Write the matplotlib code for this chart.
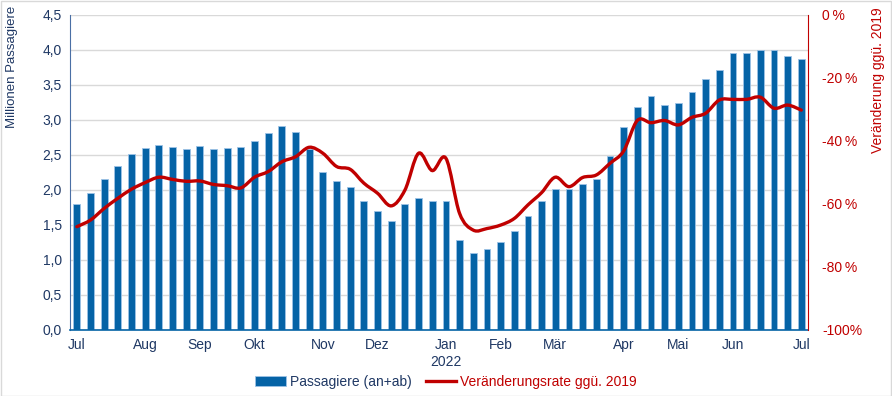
import numpy as np
import matplotlib
matplotlib.use("Agg")
from matplotlib import pyplot as plt
from matplotlib.ticker import FuncFormatter
from matplotlib.path import Path
from matplotlib.patches import PathPatch
from matplotlib.lines import Line2D

# weekly passengers (millions), Jul 2021 - Jul 2022
passagiere = [1.80, 1.95, 2.16, 2.34, 2.51, 2.60, 2.64, 2.61, 2.59, 2.63,
              2.59, 2.60, 2.61, 2.70, 2.82, 2.91, 2.83, 2.59, 2.26, 2.13,
              2.04, 1.84, 1.70, 1.56, 1.80, 1.88, 1.84, 1.84, 1.29, 1.10,
              1.15, 1.25, 1.41, 1.63, 1.84, 2.01, 2.02, 2.09, 2.16, 2.49,
              2.90, 3.19, 3.34, 3.21, 3.24, 3.40, 3.59, 3.72, 3.95, 3.96,
              4.00, 4.00, 3.92, 3.87]
# change vs. 2019 (%)
veraenderung = [-67.2, -65.1, -61.4, -58.2, -55.3, -53.2, -51.5, -52.2, -52.8, -52.7,
                -53.8, -54.2, -54.9, -51.5, -49.7, -46.6, -45.0, -42.0, -43.9, -48.1,
                -49.0, -53.4, -56.6, -60.6, -55.6, -43.9, -49.4, -45.5, -63.0, -68.3,
                -67.8, -66.7, -64.6, -60.3, -56.4, -51.5, -54.5, -51.6, -50.8, -47.1,
                -43.2, -33.5, -34.2, -33.5, -34.9, -32.5, -31.2, -27.0, -26.8, -26.8,
                -26.1, -29.6, -28.6, -30.2]
monate = ["Jul", "Aug", "Sep", "Okt", "Nov", "Dez", "Jan\n2022", "Feb", "Mär",
          "Apr", "Mai", "Jun", "Jul"]
monat_woche = [0, 5, 9, 13, 18, 22, 27, 31, 35, 40, 44, 48, 53]

blau = "#0563a6"
rot = "#c00000"
txt = "#1f3864"


def smooth_path(xs, ys):
    # excel-like smoothed line: bezier segments through the data points
    p = np.column_stack([xs, ys]).astype(float)
    pp = np.vstack([p[0], p, p[-1]])
    verts = [p[0]]
    codes = [Path.MOVETO]
    for i in range(len(p) - 1):
        a, b, c, d = pp[i], pp[i + 1], pp[i + 2], pp[i + 3]
        verts += [b + (c - a) / 6, c - (d - b) / 6, c]
        codes += [Path.CURVE4] * 3
    return Path(verts, codes)


def pct(v, p):
    if v <= -100:
        return f"{v:.0f}%"
    return f"{v:.0f}\u2009%"


plt.rcParams['font.family'] = ['Liberation Sans', 'DejaVu Sans']
plt.rcParams['font.size'] = 10

fig = plt.figure(figsize=(8.92, 3.96), dpi=100)
ax = fig.add_axes([0.0785, 0.1667, 0.8275, 0.7955])
x = np.arange(len(passagiere))

ax.bar(x, passagiere, width=0.5, color=blau, edgecolor="#9dc3e6", linewidth=0.6,
       label="Passagiere (an+ab)", zorder=2)
ax.set_xlim(-0.5, len(passagiere) - 0.5)
ax.set_ylim(0, 4.5)
ax.set_yticks(np.arange(0, 4.51, 0.5))
ax.yaxis.set_major_formatter(FuncFormatter(lambda v, p: f"{v:.1f}".replace(".", ",")))
ax.grid(axis="y", color="#d9d9d9", linewidth=1, zorder=0)
ax.set_axisbelow(True)
ax.set_xticks(monat_woche)
ax.set_xticklabels(monate)
ax.tick_params(axis="x", length=0, pad=6, colors=txt, labelsize=10)
ax.tick_params(axis="y", length=0, pad=6, colors=txt, labelsize=10)
for s in ["top", "right"]:
    ax.spines[s].set_visible(False)
ax.spines["left"].set_color("#4a6fa5")
ax.spines["bottom"].set_color(blau)
ax.spines["bottom"].set_linewidth(1.2)

ax2 = ax.twinx()
ax2.add_patch(PathPatch(smooth_path(x, veraenderung), facecolor="none", edgecolor=rot,
                        linewidth=2.4, capstyle="round", zorder=3))
ax2.set_ylim(-100, 0)
ax2.set_yticks(np.arange(-100, 1, 20))
ax2.yaxis.set_major_formatter(FuncFormatter(pct))
ax2.tick_params(axis="y", length=0, pad=10, colors=rot, labelsize=10)
for s in ["top", "left", "bottom"]:
    ax2.spines[s].set_visible(False)
ax2.spines["right"].set_color(rot)

# axis titles sit at the top, like in the original
fig.text(12 / 892, 1 - 6 / 396, "Millionen Passagiere", rotation=90, ha="center",
         va="top", color=txt, fontsize=9.5)
fig.text(878 / 892, 1 - 7 / 396, "Veränderung ggü. 2019", rotation=90, ha="center",
         va="top", color=rot, fontsize=10)

h1, l1 = ax.get_legend_handles_labels()
h2 = [Line2D([], [], color=rot, linewidth=2.4)]
l2 = ["Veränderungsrate ggü. 2019"]
leg = fig.legend(h1 + h2, l1 + l2, loc="center", bbox_to_anchor=(0.5, 0.035), ncol=2,
                 frameon=False, fontsize=10, handlelength=2.2, columnspacing=1.0,
                 handletextpad=0.3)
leg.get_texts()[0].set_color(txt)
leg.get_texts()[1].set_color(rot)

fig.patches.append(plt.Rectangle((0.001, 0.001), 0.998, 0.996, transform=fig.transFigure,
                                 fill=False, edgecolor="#d9d9d9", linewidth=1))

fig.savefig("out.png", dpi=100)
